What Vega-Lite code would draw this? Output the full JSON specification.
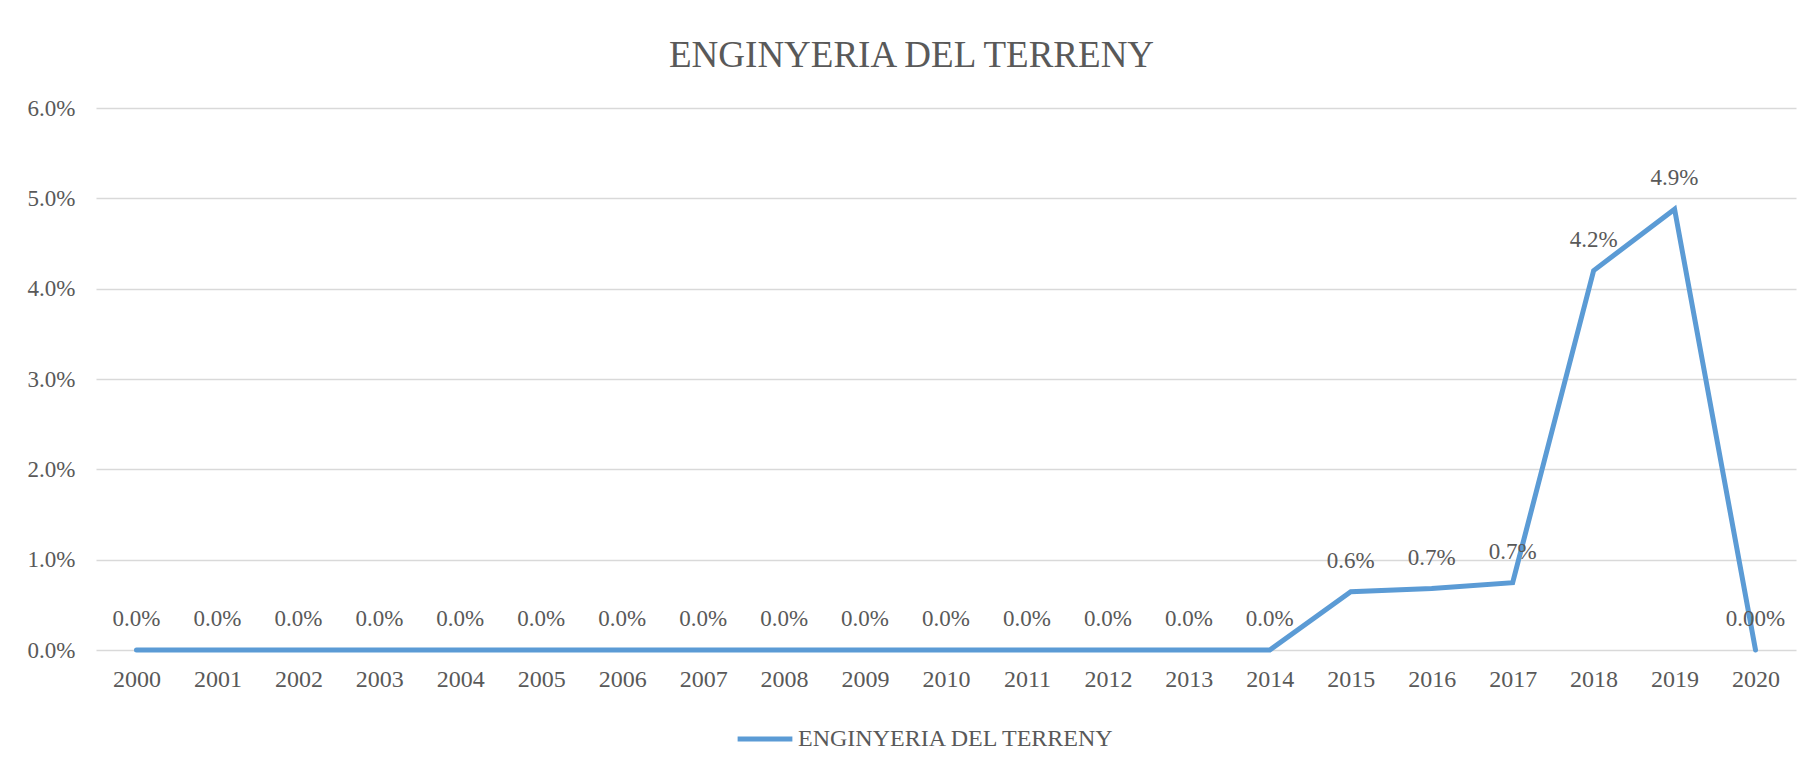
{
  "$schema": "https://vega.github.io/schema/vega-lite/v6.json",
  "width": 1700,
  "height": 542,
  "autosize": {"type": "none"},
  "padding": {"left": 96, "top": 108, "right": 16, "bottom": 111},
  "background": "white",
  "title": {
    "text": "ENGINYERIA DEL TERRENY",
    "font": "Liberation Serif",
    "fontSize": 37,
    "fontWeight": "normal",
    "color": "#595959",
    "anchor": "middle",
    "frame": "bounds",
    "baseline": "alphabetic",
    "offset": -7
  },
  "data": {
    "values": [
      {"year": "2000", "value": 0, "label": "0.0%", "series": "ENGINYERIA DEL TERRENY"},
      {"year": "2001", "value": 0, "label": "0.0%", "series": "ENGINYERIA DEL TERRENY"},
      {"year": "2002", "value": 0, "label": "0.0%", "series": "ENGINYERIA DEL TERRENY"},
      {"year": "2003", "value": 0, "label": "0.0%", "series": "ENGINYERIA DEL TERRENY"},
      {"year": "2004", "value": 0, "label": "0.0%", "series": "ENGINYERIA DEL TERRENY"},
      {"year": "2005", "value": 0, "label": "0.0%", "series": "ENGINYERIA DEL TERRENY"},
      {"year": "2006", "value": 0, "label": "0.0%", "series": "ENGINYERIA DEL TERRENY"},
      {"year": "2007", "value": 0, "label": "0.0%", "series": "ENGINYERIA DEL TERRENY"},
      {"year": "2008", "value": 0, "label": "0.0%", "series": "ENGINYERIA DEL TERRENY"},
      {"year": "2009", "value": 0, "label": "0.0%", "series": "ENGINYERIA DEL TERRENY"},
      {"year": "2010", "value": 0, "label": "0.0%", "series": "ENGINYERIA DEL TERRENY"},
      {"year": "2011", "value": 0, "label": "0.0%", "series": "ENGINYERIA DEL TERRENY"},
      {"year": "2012", "value": 0, "label": "0.0%", "series": "ENGINYERIA DEL TERRENY"},
      {"year": "2013", "value": 0, "label": "0.0%", "series": "ENGINYERIA DEL TERRENY"},
      {"year": "2014", "value": 0, "label": "0.0%", "series": "ENGINYERIA DEL TERRENY"},
      {"year": "2015", "value": 0.00645, "label": "0.6%", "series": "ENGINYERIA DEL TERRENY"},
      {"year": "2016", "value": 0.0068, "label": "0.7%", "series": "ENGINYERIA DEL TERRENY"},
      {"year": "2017", "value": 0.00745, "label": "0.7%", "series": "ENGINYERIA DEL TERRENY"},
      {"year": "2018", "value": 0.042, "label": "4.2%", "series": "ENGINYERIA DEL TERRENY"},
      {"year": "2019", "value": 0.0488, "label": "4.9%", "series": "ENGINYERIA DEL TERRENY"},
      {"year": "2020", "value": 0, "label": "0.00%", "series": "ENGINYERIA DEL TERRENY"}
    ]
  },
  "encoding": {
    "x": {
      "field": "year",
      "type": "ordinal",
      "scale": {"type": "point", "padding": 0.5},
      "axis": {
        "title": null,
        "labelAngle": 0,
        "labelFont": "Liberation Serif",
        "labelFontSize": 24,
        "labelColor": "#595959",
        "labelBaseline": "alphabetic",
        "labelPadding": 36,
        "ticks": false,
        "domain": false,
        "grid": false
      }
    },
    "y": {
      "field": "value",
      "type": "quantitative",
      "scale": {"domain": [0, 0.06], "nice": false},
      "axis": {
        "title": null,
        "format": ".1%",
        "values": [0, 0.01, 0.02, 0.03, 0.04, 0.05, 0.06],
        "labelFont": "Liberation Serif",
        "labelFontSize": 23,
        "labelColor": "#595959",
        "labelPadding": 21,
        "ticks": false,
        "domain": false,
        "grid": true,
        "gridColor": "#D9D9D9",
        "gridWidth": 1.5
      }
    }
  },
  "layer": [
    {
      "mark": {"type": "line", "strokeWidth": 5, "strokeCap": "round", "strokeJoin": "miter"},
      "encoding": {
        "color": {
          "field": "series",
          "type": "nominal",
          "scale": {"range": ["#5B9BD5"]},
          "legend": {
            "title": null,
            "orient": "none",
            "legendX": 639,
            "legendY": 601,
            "symbolType": "stroke",
            "symbolSize": 3000,
            "symbolStrokeWidth": 5,
            "labelFont": "Liberation Serif",
            "labelFontSize": 24,
            "labelColor": "#595959",
            "labelOffset": 3,
            "labelLimit": 0
          }
        }
      }
    },
    {
      "mark": {
        "type": "text",
        "font": "Liberation Serif",
        "fontSize": 23,
        "color": "#595959",
        "baseline": "middle",
        "dy": -31
      },
      "encoding": {"text": {"field": "label"}}
    }
  ],
  "config": {"view": {"stroke": null}}
}
